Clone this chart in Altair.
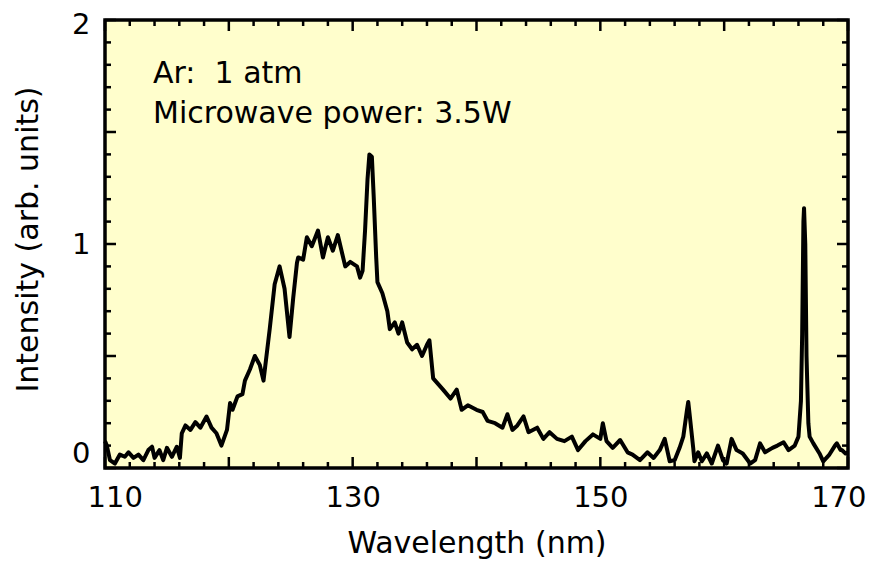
import altair as alt
import pandas as pd

# ---- data ----
wavelength = [110.0, 110.15, 110.4, 110.8, 111.2, 111.6, 111.9, 112.3, 112.7, 113.1,
              113.5, 113.8, 114.0, 114.4, 114.7, 115.0, 115.4, 115.8, 116.05, 116.2,
              116.5, 116.9, 117.3, 117.7, 118.2, 118.6, 119.0, 119.4, 119.85, 120.1,
              120.3, 120.7, 121.1, 121.3, 121.7, 122.1, 122.5, 122.8, 123.3, 123.7,
              124.1, 124.5, 124.9, 125.2, 125.5, 125.6, 126.0, 126.3, 126.7, 127.2,
              127.6, 128.0, 128.4, 128.8, 129.4, 129.8, 130.35, 130.6, 130.8, 131.0,
              131.2, 131.35, 131.55, 131.7, 131.9, 132.0, 132.4, 132.8, 133.0, 133.4,
              133.7, 134.0, 134.4, 134.8, 135.2, 135.6, 136.0, 136.2, 136.5, 137.3,
              137.9, 138.4, 138.8, 139.3, 140.0, 140.5, 140.9, 141.5, 142.1, 142.5,
              142.9, 143.3, 143.8, 144.2, 144.9, 145.4, 145.9, 146.5, 147.1, 147.7,
              148.2, 148.8, 149.4, 150.0, 150.2, 150.5, 151.0, 151.6, 152.2, 152.6,
              153.2, 153.8, 154.3, 154.8, 155.2, 155.6, 156.0, 156.4, 156.7, 157.0,
              157.1, 157.2, 157.5, 157.6, 157.9, 158.2, 158.6, 159.0, 159.5, 159.9,
              160.2, 160.6, 161.0, 161.5, 162.1, 162.5, 162.9, 163.3, 163.9, 164.3,
              164.8, 165.2, 165.7, 166.0, 166.2, 166.3, 166.4, 166.45, 166.55, 166.65,
              166.8, 166.9, 167.2, 167.7, 168.0, 168.5, 168.95, 169.1, 169.4, 169.5,
              169.8, 170.0]
intensity = [0.12, 0.10, 0.035, 0.02, 0.06, 0.05, 0.07, 0.045, 0.06, 0.035,
             0.08, 0.095, 0.045, 0.08, 0.035, 0.09, 0.05, 0.095, 0.045, 0.155,
             0.19, 0.17, 0.205, 0.18, 0.23, 0.18, 0.155, 0.10, 0.17, 0.29,
             0.26, 0.32, 0.33, 0.39, 0.44, 0.50, 0.46, 0.39, 0.62, 0.82,
             0.90, 0.80, 0.585, 0.76, 0.915, 0.94, 0.93, 1.03, 0.99, 1.06,
             0.94, 1.03, 0.97, 1.04, 0.90, 0.92, 0.90, 0.85, 0.88, 1.06,
             1.29, 1.40, 1.39, 1.21, 0.94, 0.83, 0.78, 0.70, 0.62, 0.65,
             0.60, 0.65, 0.56, 0.53, 0.55, 0.50, 0.55, 0.57, 0.40, 0.35,
             0.31, 0.35, 0.26, 0.28, 0.26, 0.25, 0.21, 0.20, 0.18, 0.24,
             0.17, 0.19, 0.23, 0.16, 0.18, 0.13, 0.16, 0.13, 0.12, 0.14,
             0.08, 0.12, 0.15, 0.13, 0.20, 0.12, 0.09, 0.125, 0.07, 0.06,
             0.035, 0.07, 0.045, 0.08, 0.13, 0.03, 0.035, 0.09, 0.14, 0.26,
             0.295, 0.245, 0.09, 0.03, 0.07, 0.03, 0.065, 0.02, 0.10, 0.035,
             0.02, 0.13, 0.08, 0.065, 0.02, 0.035, 0.11, 0.07, 0.09, 0.10,
             0.115, 0.08, 0.10, 0.14, 0.30, 0.60, 1.10, 1.16, 1.00, 0.50,
             0.20, 0.14, 0.11, 0.065, 0.03, 0.06, 0.10, 0.11, 0.08, 0.08,
             0.065, 0.07]

x_labels = [110, 130, 150, 170]
y_labels = [0, 1, 2]
x_major = [110, 120, 130, 140, 150, 160, 170]
x_minor = [112, 114, 116, 118, 122, 124, 126, 128, 132, 134, 136, 138,
           142, 144, 146, 148, 152, 154, 156, 158, 162, 164, 166, 168]
y_major = [0, 0.5, 1.0, 1.5, 2.0]
y_minor = [0.1, 0.2, 0.3, 0.4, 0.6, 0.7, 0.8, 0.9, 1.1, 1.2, 1.3, 1.4,
           1.6, 1.7, 1.8, 1.9]
notes = ["Ar:\u00a0 1 atm", "Microwave power: 3.5W"]

W, H = 743, 448
FONT = "DejaVu Sans"

spec = pd.DataFrame({"wl": wavelength, "I": intensity})
xscale = alt.Scale(domain=[110, 170], nice=False, zero=False)
yscale = alt.Scale(domain=[0, 2], nice=False, zero=False)

x_axis = alt.Axis(values=x_labels, ticks=False, tickSize=0, domain=False, grid=False,
                  labelExpr="'' + datum.value",
                  labelFont=FONT, labelFontSize=29, labelColor="black",
                  labelPadding=15, labelFlush=True, labelFlushOffset=18,
                  labelOverlap=False, labelBound=False,
                  title="Wavelength (nm)", titleFont=FONT, titleFontSize=30,
                  titleFontWeight="normal", titleColor="black",
                  titleBaseline="alphabetic", titleY=84)
y_axis = alt.Axis(values=y_labels, ticks=False, tickSize=0, domain=False, grid=False,
                  labelExpr="'' + datum.value",
                  labelFont=FONT, labelFontSize=29, labelColor="black",
                  labelPadding=15, labelFlush=True,
                  labelOverlap=False, labelBound=False,
                  labelOffset={"condition": {"test": "datum.value >= 2", "value": -10}, "value": 0},
                  title="Intensity (arb. units)", titleFont=FONT, titleFontSize=30,
                  titleFontWeight="normal", titleColor="black",
                  titleBaseline="alphabetic", titleAngle=270,
                  titleX=-68, titleY=219, titleAlign="center")

line = alt.Chart(spec).mark_line(color="black", strokeWidth=4, strokeJoin="round").encode(
    x=alt.X("wl:Q", scale=xscale, axis=x_axis, title="Wavelength (nm)"),
    y=alt.Y("I:Q", scale=yscale, axis=y_axis, title="Intensity (arb. units)"),
)


def xticks(vals, length):
    d = pd.DataFrame({"v": vals})
    enc_x = alt.X("v:Q", scale=xscale, axis=x_axis, title="Wavelength (nm)")
    bottom = alt.Chart(d).mark_rule(color="black", strokeWidth=2.5).encode(
        x=enc_x, y=alt.value(H), y2=alt.value(H - length))
    top = alt.Chart(d).mark_rule(color="black", strokeWidth=2.5).encode(
        x=enc_x, y=alt.value(0), y2=alt.value(length))
    return [bottom, top]


def yticks(vals, length):
    d = pd.DataFrame({"v": vals})
    enc_y = alt.Y("v:Q", scale=yscale, axis=y_axis, title="Intensity (arb. units)")
    left = alt.Chart(d).mark_rule(color="black", strokeWidth=2.5).encode(
        y=enc_y, x=alt.value(0), x2=alt.value(length))
    right = alt.Chart(d).mark_rule(color="black", strokeWidth=2.5).encode(
        y=enc_y, x=alt.value(W), x2=alt.value(W - length))
    return [left, right]


tick_layers = xticks(x_major, 11) + xticks(x_minor, 6) + yticks(y_major, 11) + yticks(y_minor, 6)

note_layers = [
    alt.Chart(pd.DataFrame({"t": [notes[0]]})).mark_text(
        align="left", baseline="alphabetic", font=FONT, fontSize=30, color="black"
    ).encode(text="t:N", x=alt.value(48), y=alt.value(63)),
    alt.Chart(pd.DataFrame({"t": [notes[1]]})).mark_text(
        align="left", baseline="alphabetic", font=FONT, fontSize=30, color="black"
    ).encode(text="t:N", x=alt.value(48), y=alt.value(103)),
]

chart = alt.layer(line, *tick_layers, *note_layers).properties(
    width=W, height=H,
    padding={"left": 97, "top": 12, "right": 18, "bottom": 91},
    autosize=alt.AutoSizeParams(type="none"),
    background="white",
).configure_view(
    fill="#FFFECC", stroke="black", strokeWidth=3.5,
)

chart.save("out.html", embed_options={"renderer": "svg", "actions": False})
